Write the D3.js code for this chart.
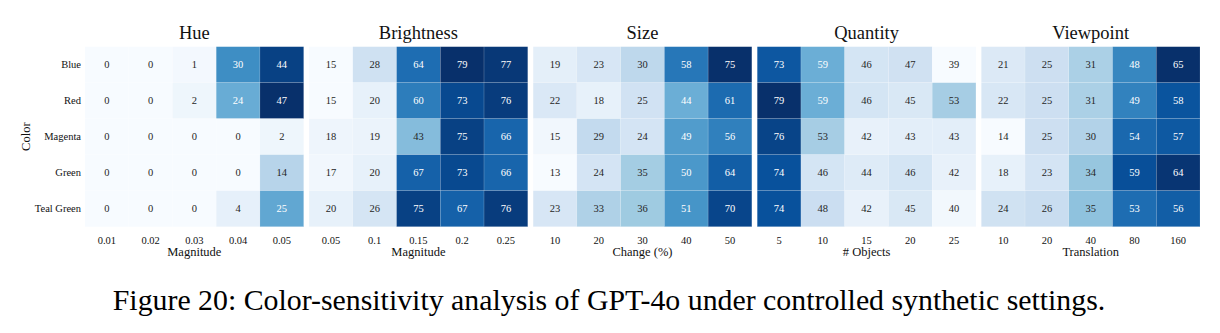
<!DOCTYPE html>
<html><head><meta charset="utf-8">
<script src="https://cdn.jsdelivr.net/npm/d3@7"></script>
<style>body{margin:0;background:#fff}svg{display:block}text{font-family:"Liberation Serif","DejaVu Serif",serif}</style>
</head><body><svg id="c" width="1220" height="333"></svg>
<script>
const rows = ["Blue","Red","Magenta","Green","Teal Green"];
const panels = ["Hue","Brightness","Size","Quantity","Viewpoint"];
const xLabels = ["Magnitude","Magnitude","Change (%)","# Objects","Translation"];
const hueTicks = ["0.01","0.02","0.03","0.04","0.05"];
const brightnessTicks = ["0.05","0.1","0.15","0.2","0.25"];
const sizeTicks = ["10","20","30","40","50"];
const quantityTicks = ["5","10","15","20","25"];
const viewpointTicks = ["10","20","40","80","160"];
const hueValues = [[0,0,1,30,44],[0,0,2,24,47],[0,0,0,0,2],[0,0,0,0,14],[0,0,0,4,25]];
const brightnessValues = [[15,28,64,79,77],[15,20,60,73,76],[18,19,43,75,66],[17,20,67,73,66],[20,26,75,67,76]];
const sizeValues = [[19,23,30,58,75],[22,18,25,44,61],[15,29,24,49,56],[13,24,35,50,64],[23,33,36,51,70]];
const quantityValues = [[73,59,46,47,39],[79,59,46,45,53],[76,53,42,43,43],[74,46,44,46,42],[74,48,42,45,40]];
const viewpointValues = [[21,25,31,48,65],[22,25,31,49,58],[14,25,30,54,57],[18,23,34,59,64],[24,26,35,53,56]];
const caption = "Figure 20: Color-sensitivity analysis of GPT-4o under controlled synthetic settings.";

const tickSets = [hueTicks, brightnessTicks, sizeTicks, quantityTicks, viewpointTicks];
const valueSets = [hueValues, brightnessValues, sizeValues, quantityValues, viewpointValues];
const blues = ["#f7fbff","#deebf7","#c6dbef","#9ecae1","#6baed6","#4292c6","#2171b5","#08519c","#08306b"];

const svg = d3.select("#c");
const px = d3.scaleBand().domain(panels).range([85, 1200]).paddingInner(0.024);
const y = d3.scaleBand().domain(rows).range([46.7, 226.7]);

function lum(c){
  const r = d3.rgb(c);
  const f = v => { v/=255; return v <= 0.03928 ? v/12.92 : Math.pow((v+0.055)/1.055, 2.4); };
  return 0.2126*f(r.r)+0.7152*f(r.g)+0.0722*f(r.b);
}

panels.forEach((p, i) => {
  const vals = valueSets[i], ticks = tickSets[i];
  const x0 = px(p), w = px.bandwidth();
  const x = d3.scaleBand().domain(ticks).range([x0, x0 + w]);
  const flat = vals.flat();
  const mn = d3.min(flat), mx = d3.max(flat);
  const color = d3.scaleLinear().domain(d3.range(9).map(k => mn + (mx - mn) * k / 8)).range(blues).interpolate(d3.interpolateRgb).clamp(true);
  const g = svg.append("g");
  const cells = [];
  vals.forEach((r, ri) => r.forEach((v, ci) => cells.push({row: rows[ri], col: ticks[ci], v})));
  g.selectAll("rect").data(cells).join("rect")
    .attr("x", d => x(d.col)).attr("y", d => y(d.row))
    .attr("width", x.bandwidth()).attr("height", y.bandwidth())
    .attr("fill", d => color(d.v))
    .attr("stroke", "rgba(255,255,255,0.25)").attr("stroke-width", 0.5);
  g.selectAll("text.v").data(cells).join("text").attr("class","v")
    .attr("x", d => x(d.col) + x.bandwidth()/2).attr("y", d => y(d.row) + y.bandwidth()/2)
    .attr("text-anchor","middle").attr("dominant-baseline","central")
    .attr("font-size", 10.5)
    .attr("fill", d => lum(color(d.v)) > 0.408 ? "#262626" : "#ffffff")
    .text(d => d.v);
  const ax = svg.append("g").attr("transform", `translate(0,${y.range()[1]})`)
    .call(d3.axisBottom(x).tickSize(0).tickPadding(10));
  ax.select(".domain").remove();
  ax.selectAll("text").attr("font-size", 10.5).attr("fill", "#111");
  svg.append("text").attr("x", x0 + w/2).attr("y", 256).attr("text-anchor","middle")
    .attr("font-size", 12.5).attr("fill","#111").text(xLabels[i]);
  svg.append("text").attr("x", x0 + w/2).attr("y", 39).attr("text-anchor","middle")
    .attr("font-size", 18.5).attr("fill","#111").text(p);
});

const ay = svg.append("g").attr("transform", `translate(${px(panels[0])},0)`)
  .call(d3.axisLeft(y).tickSize(0).tickPadding(4));
ay.select(".domain").remove();
ay.selectAll("text").attr("font-size", 10.5).attr("fill","#111");
svg.append("text").attr("transform", `translate(30,${(y.range()[0]+y.range()[1])/2}) rotate(-90)`)
  .attr("text-anchor","middle").attr("font-size", 12.5).attr("fill","#111").text("Color");

const cap = svg.append("text").attr("x", 609).attr("y", 310).attr("text-anchor","middle")
  .attr("font-size", 24).attr("fill","#000").text(caption);
const len = cap.node().getComputedTextLength();
cap.attr("font-size", 24 * 993 / len);
</script></body></html>
